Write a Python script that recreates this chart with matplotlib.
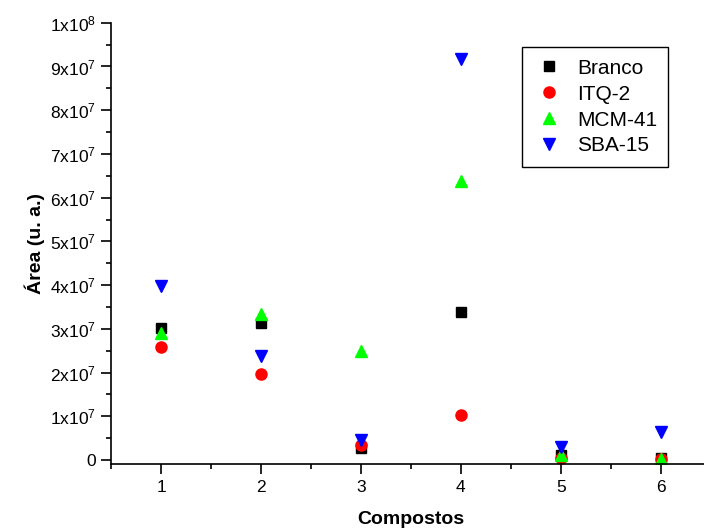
import matplotlib
matplotlib.use("Agg")
import matplotlib.pyplot as plt
from matplotlib.ticker import FixedLocator, FixedFormatter, MultipleLocator

plt.rcParams['font.family'] = ['Liberation Sans', 'DejaVu Sans']
plt.rcParams['mathtext.fontset'] = 'custom'
plt.rcParams['mathtext.rm'] = 'Liberation Sans'

compostos = [1, 2, 3, 4, 5, 6]
branco = [30.1e6, 31.3e6, 2.7e6, 33.9e6, 1.1e6, 0.4e6]
itq2 = [25.9e6, 19.7e6, 3.4e6, 10.4e6, 0.4e6, 0.3e6]
mcm41 = [29.1e6, 33.5e6, 24.9e6, 63.7e6, 1.1e6, 0.2e6]
sba15 = [39.7e6, 23.7e6, 4.6e6, 91.8e6, 3.0e6, 6.3e6]

ytick_values = [0, 1e7, 2e7, 3e7, 4e7, 5e7, 6e7, 7e7, 8e7, 9e7, 1e8]
ytick_labels = ['0'] + [r'$\mathregular{%dx10^{7}}$' % i for i in range(1, 10)] + [r'$\mathregular{1x10^{8}}$']

fig = plt.figure(figsize=(7.04, 5.31), dpi=100)
ax = fig.add_axes([0.1577, 0.1254, 0.852, 0.8318])

ax.plot(compostos, branco, linestyle='none', marker='s', color='black', markersize=7, label='Branco')
ax.plot(compostos, itq2, linestyle='none', marker='o', color='#ff0000', markersize=8, label='ITQ-2')
ax.plot(compostos, mcm41, linestyle='none', marker='^', color='#00ff00', markersize=9, label='MCM-41')
ax.plot(compostos, sba15, linestyle='none', marker='v', color='#0000ff', markersize=9, label='SBA-15')

ax.set_xlim(0.5, 6.5)
ax.set_ylim(-1e6, 1e8)
ax.spines['top'].set_visible(False)
ax.spines['right'].set_visible(False)
for s in ('left', 'bottom'):
    ax.spines[s].set_linewidth(1.2)

ax.xaxis.set_major_locator(FixedLocator(compostos))
ax.xaxis.set_minor_locator(MultipleLocator(0.5))
ax.yaxis.set_major_locator(FixedLocator(ytick_values))
ax.yaxis.set_major_formatter(FixedFormatter(ytick_labels))
ax.yaxis.set_minor_locator(MultipleLocator(5e6))
ax.tick_params(which='major', direction='out', length=7, width=1.2, labelsize=12.5, pad=4)
ax.tick_params(which='minor', direction='out', length=3.8, width=1.2)

ax.set_xlabel('Compostos', fontsize=14, fontweight='bold', labelpad=12)
ax.set_ylabel('Área (u. a.)', fontsize=14, fontweight='bold', labelpad=3)

leg = ax.legend(loc='upper left', bbox_to_anchor=(521.7 / 704, 1 - 47.3 / 531),
                bbox_transform=fig.transFigure, borderaxespad=0, fontsize=15,
                fancybox=False, framealpha=1, edgecolor='black',
                handletextpad=0.6, labelspacing=0.33, borderpad=0.55, handlelength=1.5)
leg.get_frame().set_linewidth(1.0)

fig.savefig('out.png', dpi=100)
